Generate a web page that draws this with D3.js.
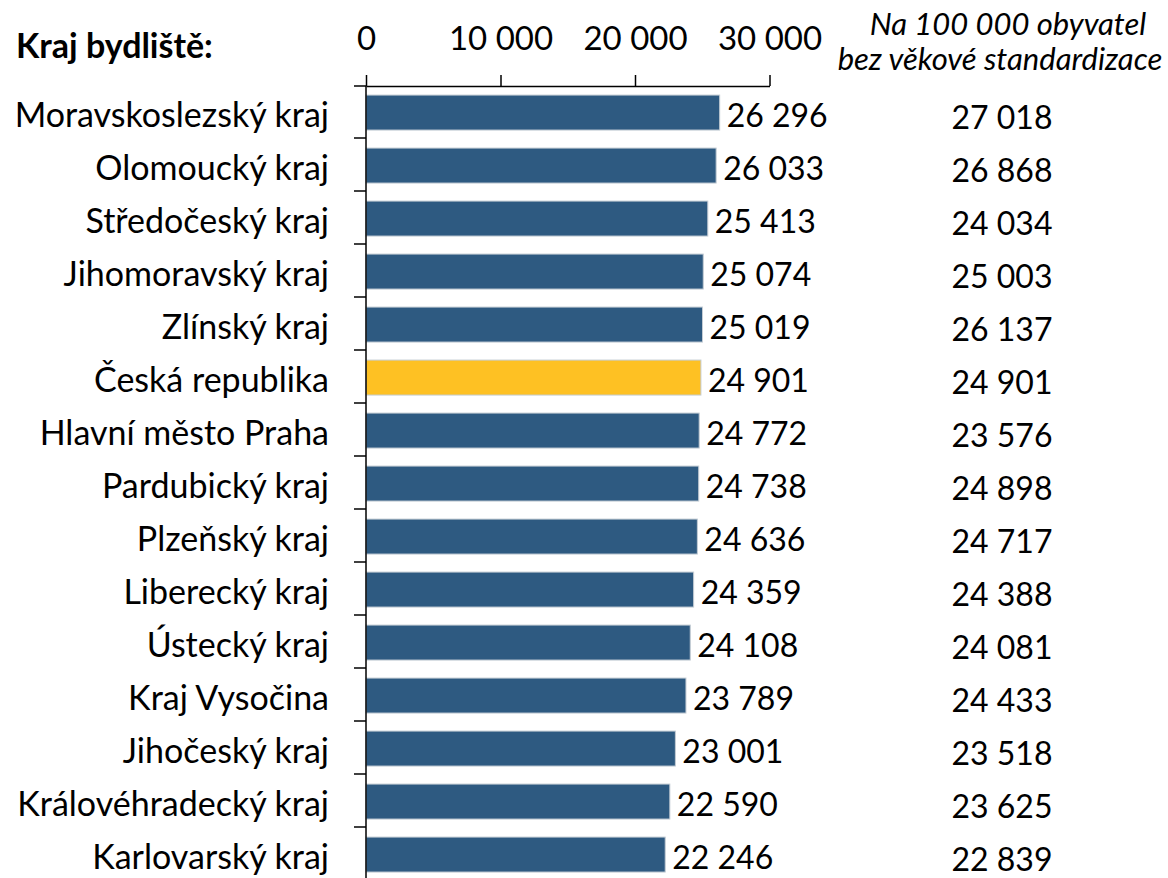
<!DOCTYPE html>
<html>
<head>
<meta charset="utf-8">
<script src="https://cdn.jsdelivr.net/npm/d3@7"></script>
<style>
  html, body { margin: 0; padding: 0; background: #fff; }
  svg { display: block; font-family: Lato, "Open Sans", sans-serif; }
</style>
</head>
<body>
<svg id="chart" width="1168" height="878"></svg>
<script>
const categories = [
  "Moravskoslezský kraj", "Olomoucký kraj", "Středočeský kraj", "Jihomoravský kraj",
  "Zlínský kraj", "Česká republika", "Hlavní město Praha", "Pardubický kraj",
  "Plzeňský kraj", "Liberecký kraj", "Ústecký kraj", "Kraj Vysočina",
  "Jihočeský kraj", "Královéhradecký kraj", "Karlovarský kraj"
];
const standardized = [26296, 26033, 25413, 25074, 25019, 24901, 24772, 24738, 24636, 24359, 24108, 23789, 23001, 22590, 22246];
const perCapita = [27018, 26868, 24034, 25003, 26137, 24901, 23576, 24898, 24717, 24388, 24081, 24433, 23518, 23625, 22839];
const xTicks = [0, 10000, 20000, 30000];
const highlight = "Česká republika";
const titleLeft = "Kraj bydliště:";
const titleRight = ["Na 100 000 obyvatel", "bez věkové standardizace"];

const svg = d3.select("#chart");
const fmt = v => d3.format(",")(v).replace(/,/g, "\u00a0");

const x = d3.scaleLinear().domain([0, 30000]).range([366, 769.5]);
const y = d3.scaleBand().domain(categories).range([85, 880]).padding(0);
const bw = y.bandwidth();

const fs = 32;

// bars
svg.append("g").selectAll("rect")
  .data(categories)
  .join("rect")
  .attr("x", x(0))
  .attr("y", d => y(d) + bw * 0.19)
  .attr("width", (d, i) => x(standardized[i]) - x(0))
  .attr("height", bw * 0.66)
  .attr("fill", d => d === highlight ? "#FEC123" : "#2E5A81")
  .attr("stroke", "#C4CCD4")
  .attr("stroke-width", 1);

// top axis
const topAxis = svg.append("g")
  .attr("transform", "translate(0,86)")
  .call(d3.axisTop(x).tickValues(xTicks).tickSize(11).tickSizeOuter(0).tickFormat(fmt));
topAxis.selectAll("path, line").attr("stroke", "#000").attr("stroke-width", 1.5);
topAxis.selectAll("text")
  .attr("font-size", 33).attr("font-family", "Lato").attr("fill", "#000")
  .attr("y", -36).attr("dy", 0);

// left axis line + ticks at band boundaries
const leftG = svg.append("g");
leftG.append("line")
  .attr("x1", x(0)).attr("x2", x(0)).attr("y1", 86).attr("y2", 878)
  .attr("stroke", "#000").attr("stroke-width", 1.5);
leftG.selectAll("line.tk")
  .data(categories)
  .join("line")
  .attr("class", "tk")
  .attr("x1", x(0) - 12).attr("x2", x(0))
  .attr("y1", d => y(d) + (d === categories[0] ? 1 : 0))
  .attr("y2", d => y(d) + (d === categories[0] ? 1 : 0))
  .attr("stroke", "#000").attr("stroke-width", 1.5);

// category labels
svg.append("g").selectAll("text")
  .data(categories)
  .join("text")
  .attr("x", 329)
  .attr("y", d => y(d) + bw / 2 + 15)
  .attr("text-anchor", "end")
  .attr("font-size", 34)
  .attr("fill", "#000")
  .text(d => d);

// value labels
svg.append("g").selectAll("text")
  .data(categories)
  .join("text")
  .attr("x", (d, i) => x(standardized[i]) + 7)
  .attr("y", d => y(d) + bw / 2 + 15)
  .attr("font-size", fs)
  .attr("fill", "#000")
  .text((d, i) => fmt(standardized[i]));

// right column
svg.append("g").selectAll("text")
  .data(categories)
  .join("text")
  .attr("x", 1002)
  .attr("y", d => y(d) + bw / 2 + 17)
  .attr("text-anchor", "middle")
  .attr("font-size", fs)
  .attr("fill", "#000")
  .text((d, i) => fmt(perCapita[i]));

// titles
svg.append("text")
  .attr("x", 16).attr("y", 58)
  .attr("font-size", 34).attr("font-weight", "bold")
  .attr("fill", "#000")
  .text(titleLeft);

svg.append("g").selectAll("text")
  .data(titleRight)
  .join("text")
  .attr("x", (d, i) => i === 0 ? 1008 : 1000)
  .attr("y", (d, i) => 35 + i * 35)
  .attr("text-anchor", "middle")
  .attr("font-size", 31)
  .attr("font-style", "italic")
  .attr("fill", "#000")
  .text(d => d);
</script>
</body>
</html>
